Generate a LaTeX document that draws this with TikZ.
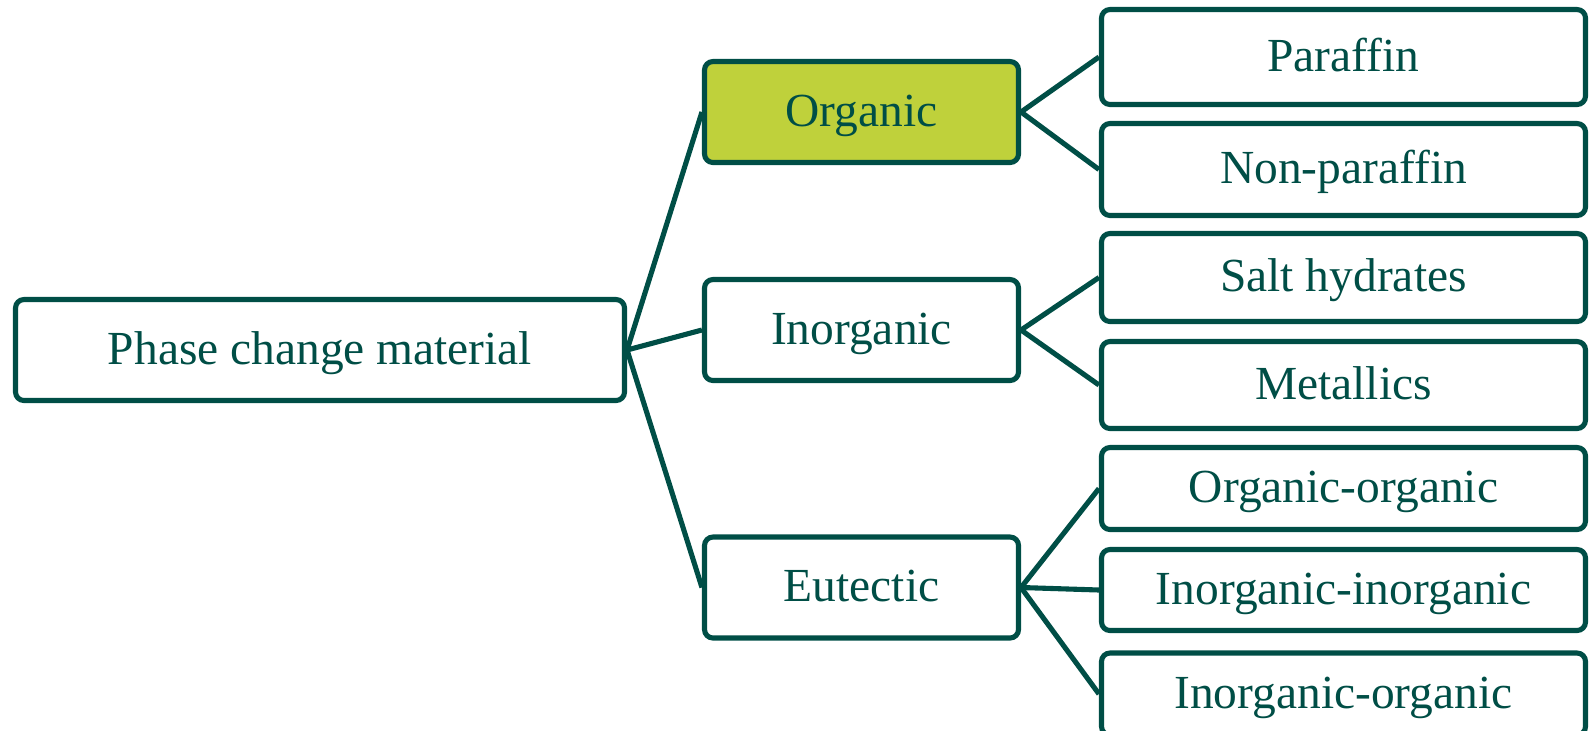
\documentclass[tikz,border=0pt]{standalone}
\usepackage{fontspec}
\setmainfont{Liberation Serif}
\definecolor{pcmteal}{RGB}{0,78,70}
\definecolor{pcmlime}{RGB}{191,209,59}
\begin{document}
\begin{tikzpicture}[
    box/.style={draw=pcmteal, line width=2.9pt, rounded corners=0.17cm, fill=white,
        text=pcmteal, inner sep=0pt, text height=21pt, text depth=5pt,
        font=\fontsize{27}{32}\selectfont},
    link/.style={draw=pcmteal, line width=2.9pt}]
                \useasboundingbox (0,0) rectangle (31.78,-14.6) ;
                \node [box, minimum width=12.18cm, minimum height=2.02cm] (pcm) at (6.40,-7.00) {Phase change material} ;
                \node [box, fill=pcmlime, minimum width=6.28cm, minimum height=2.02cm] (org) at (17.23,-2.24) {Organic} ;
                \node [box, minimum width=6.28cm, minimum height=2.02cm] (inorg) at (17.23,-6.60) {Inorganic} ;
                \node [box, minimum width=6.28cm, minimum height=2.02cm] (eut) at (17.23,-11.75) {Eutectic} ;
                \node [box, minimum width=9.68cm, minimum height=1.90cm] (par) at (26.87,-1.14) {Paraffin} ;
                \node [box, minimum width=9.68cm, minimum height=1.84cm] (nonpar) at (26.87,-3.39) {Non-paraffin} ;
                \node [box, minimum width=9.68cm, minimum height=1.76cm] (salt) at (26.87,-5.55) {Salt hydrates} ;
                \node [box, minimum width=9.68cm, minimum height=1.74cm] (metal) at (26.87,-7.70) {Metallics} ;
                \node [box, minimum width=9.68cm, minimum height=1.64cm] (oo) at (26.87,-9.77) {Organic-organic} ;
                \node [box, minimum width=9.68cm, minimum height=1.62cm] (ii) at (26.87,-11.80) {Inorganic-inorganic} ;
                \node [box, minimum width=9.68cm, minimum height=1.64cm] (io) at (26.87,-13.88) {Inorganic-organic} ;
                \draw [link] (pcm.east) -- (org.west) ;
                \draw [link] (pcm.east) -- (inorg.west) ;
                \draw [link] (pcm.east) -- (eut.west) ;
                \draw [link] (org.east) -- (par.west) ;
                \draw [link] (org.east) -- (nonpar.west) ;
                \draw [link] (inorg.east) -- (salt.west) ;
                \draw [link] (inorg.east) -- (metal.west) ;
                \draw [link] (eut.east) -- (oo.west) ;
                \draw [link] (eut.east) -- (ii.west) ;
                \draw [link] (eut.east) -- (io.west) ;
\end{tikzpicture}
\end{document}
